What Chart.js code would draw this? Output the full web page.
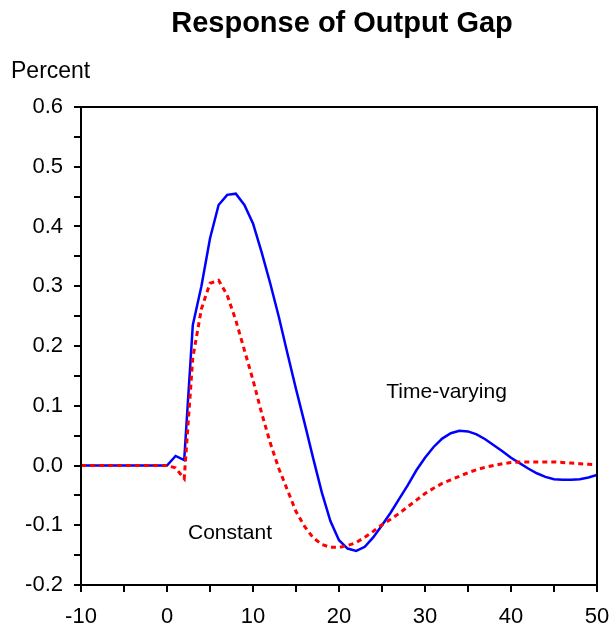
<!DOCTYPE html>
<html>
<head>
<meta charset="utf-8">
<script src="https://cdn.jsdelivr.net/npm/chart.js@4.4.1/dist/chart.umd.min.js"></script>
<style>
    html, body { margin: 0; padding: 0; background: #ffffff; }
    #wrap { width: 613px; height: 637px; position: relative; }
</style>
</head>
<body>
<div id="wrap"><canvas id="gapChart"></canvas></div>
<script>
const periods = [
    -10, -9, -8, -7, -6, -5, -4, -3, -2, -1, 0,
    1, 2, 3, 4, 5, 6, 7, 8, 9, 10,
    11, 12, 13, 14, 15, 16, 17, 18, 19, 20,
    21, 22, 23, 24, 25, 26, 27, 28, 29, 30,
    31, 32, 33, 34, 35, 36, 37, 38, 39, 40,
    41, 42, 43, 44, 45, 46, 47, 48, 49, 50,
];

const timeVarying = [
    0, 0, 0, 0, 0, 0, 0, 0, 0, 0, 0,
    0.016, 0.009, 0.235, 0.300, 0.380, 0.436, 0.453, 0.455, 0.436, 0.405,
    0.357, 0.305, 0.249, 0.188, 0.128, 0.071, 0.012, -0.045, -0.093, -0.125,
    -0.139, -0.143, -0.136, -0.120, -0.100, -0.079, -0.056, -0.033, -0.008, 0.013,
    0.031, 0.045, 0.054, 0.058, 0.057, 0.052, 0.044, 0.034, 0.024, 0.013,
    0.004, -0.005, -0.013, -0.019, -0.023, -0.024, -0.024, -0.023, -0.020, -0.016,
];

const constant = [
    0, 0, 0, 0, 0, 0, 0, 0, 0, 0, 0,
    -0.004, -0.022, 0.180, 0.262, 0.305, 0.310, 0.285, 0.243, 0.193, 0.143,
    0.088, 0.038, -0.005, -0.041, -0.077, -0.102, -0.121, -0.132, -0.137, -0.137,
    -0.134, -0.129, -0.120, -0.110, -0.099, -0.090, -0.080, -0.069, -0.058, -0.047,
    -0.038, -0.030, -0.024, -0.018, -0.012, -0.007, -0.003, 0.000, 0.003, 0.005,
    0.006, 0.006, 0.006, 0.006, 0.006, 0.005, 0.004, 0.003, 0.002, 0.001,
];

const titleText = "Response of Output Gap";
const unitText = "Percent";
const seriesNotes = [
    { text: "Time-varying", x: 25.5, y: 0.113 },
    { text: "Constant", x: 2.44, y: -0.123 },
];

const fontFamily = "'Liberation Sans', Arial, Helvetica, sans-serif";

function points(values) {
    return periods.map((p, i) => ({ x: p, y: values[i] }));
}

// frame, title and the free text labels
const decorations = {
    id: "decorations",
    afterDraw(chart) {
        const { ctx, chartArea, scales } = chart;
        ctx.save();
        ctx.strokeStyle = "#000000";
        ctx.lineWidth = 2;
        ctx.strokeRect(chartArea.left, chartArea.top, chartArea.right - chartArea.left, chartArea.bottom - chartArea.top);

        ctx.fillStyle = "#000000";
        ctx.textBaseline = "alphabetic";
        ctx.textAlign = "center";
        ctx.font = `bold 29px ${fontFamily}`;
        ctx.fillText(titleText, 342, 32);

        ctx.textAlign = "left";
        ctx.font = `23px ${fontFamily}`;
        ctx.fillText(unitText, 11, 78);

        ctx.font = `21px ${fontFamily}`;
        seriesNotes.forEach((note) => {
            ctx.fillText(note.text, scales.x.getPixelForValue(note.x), scales.y.getPixelForValue(note.y));
        });
        ctx.restore();
    },
};

new Chart(document.getElementById("gapChart"), {
    type: "line",
    data: {
        datasets: [
            {
                label: "Constant",
                data: points(constant),
                borderColor: "#ff0000",
                borderWidth: 3,
                borderDash: [5, 4],
                pointRadius: 0,
                tension: 0,
                fill: false,
            },
            {
                label: "Time-varying",
                data: points(timeVarying),
                borderColor: "#0000ff",
                borderWidth: 2.5,
                pointRadius: 0,
                tension: 0,
                fill: false,
            },
        ],
    },
    options: {
        responsive: true,
        maintainAspectRatio: false,
        animation: false,
        layout: { padding: { top: 107, right: 16, left: 0, bottom: 0 } },
        plugins: {
            legend: { display: false },
            tooltip: { enabled: false },
            title: { display: false },
        },
        scales: {
            x: {
                type: "linear",
                min: -10,
                max: 50,
                afterFit: (scale) => {
                    scale.height = 52;
                    scale.paddingLeft = 0;
                    scale.paddingRight = 0;
                },
                border: { display: true, color: "#000000", width: 2 },
                grid: { drawOnChartArea: false, drawTicks: true, tickLength: 7, color: "#000000", lineWidth: 2 },
                ticks: {
                    stepSize: 5,
                    autoSkip: false,
                    maxRotation: 0,
                    padding: 12,
                    color: "#000000",
                    font: { family: fontFamily, size: 22 },
                    callback: (value) => (value % 10 === 0 ? String(value) : ""),
                },
            },
            y: {
                min: -0.2,
                max: 0.6,
                afterFit: (scale) => { scale.width = 81; },
                border: { display: true, color: "#000000", width: 2 },
                grid: { drawOnChartArea: false, drawTicks: true, tickLength: 7, color: "#000000", lineWidth: 2 },
                ticks: {
                    stepSize: 0.05,
                    autoSkip: false,
                    padding: 11,
                    color: "#000000",
                    font: { family: fontFamily, size: 22 },
                    callback: (value) => (Math.round(value * 100) % 10 === 0 ? value.toFixed(1) : ""),
                },
            },
        },
    },
    plugins: [decorations],
});
</script>
</body>
</html>
